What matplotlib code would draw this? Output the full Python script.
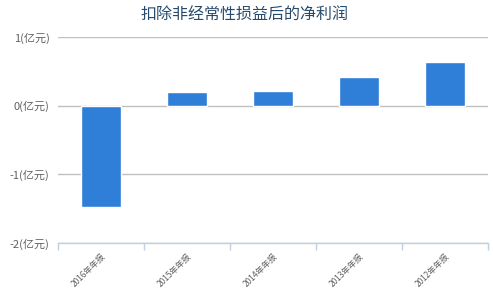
import matplotlib
matplotlib.use("Agg")
import matplotlib.pyplot as plt

plt.rcParams['font.family'] = ['Noto Sans CJK SC', 'DejaVu Sans']

categories = ['2016年年报', '2015年年报', '2014年年报', '2013年年报', '2012年年报']
values = [-1.47, 0.20, 0.22, 0.42, 0.64]
yticks = [-2, -1, 0, 1]
ytick_labels = ['-2(亿元)', '-1(亿元)', '0(亿元)', '1(亿元)']
title = '扣除非经常性损益后的净利润'

fig = plt.figure(figsize=(4.93, 2.92), dpi=100)
ax = fig.add_axes([58/493, 1-243/292, 430/493, 206/292])

x = list(range(len(categories)))
ax.bar(x, values, width=0.47, color='#2f7ed8', edgecolor='white', linewidth=1, zorder=3)

ax.set_xlim(-0.5, len(categories) - 0.5)
ax.set_ylim(-2, 1)
ax.set_yticks(yticks)
ax.set_yticklabels(ytick_labels, fontsize=8, color='#606060')
ax.tick_params(axis='y', length=0, pad=6)
ax.yaxis.grid(True, color='#c0c0c0', linewidth=1, zorder=0)
ax.set_axisbelow(True)

for s in ['top', 'right', 'left']:
    ax.spines[s].set_visible(False)
ax.spines['bottom'].set_color('#c0d0e0')
ax.spines['bottom'].set_linewidth(1)
ax.spines['bottom'].set_zorder(4)

ax.set_xticks([i - 0.5 for i in range(len(categories) + 1)], minor=False)
ax.set_xticklabels([])
ax.tick_params(axis='x', which='major', length=5, color='#c0d0e0', width=1)
ax.set_xticks(x, minor=True)
ax.set_xticklabels(categories, minor=True, rotation=45, ha='right', va='top',
                   rotation_mode='anchor', fontsize=6, color='#606060')
ax.tick_params(axis='x', which='minor', length=0, pad=6)

fig.text(245/493, 1-15/292, title, ha='center', va='center', fontsize=11.5, color='#274b6d')

fig.savefig('out.png', dpi=100)
